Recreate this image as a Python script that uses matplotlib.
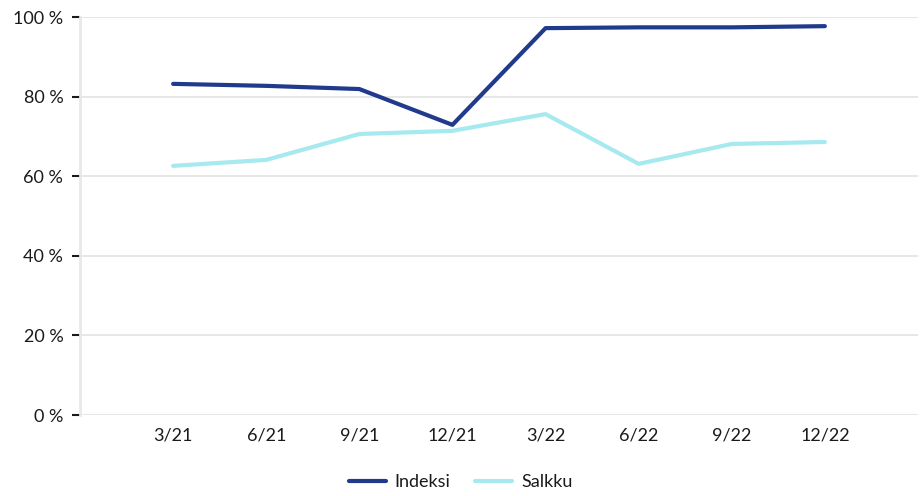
import matplotlib
matplotlib.use("Agg")
import matplotlib.pyplot as plt
from matplotlib.ticker import FuncFormatter

categories = ["3/21", "6/21", "9/21", "12/21", "3/22", "6/22", "9/22", "12/22"]
indeksi = [83.2, 82.7, 81.9, 72.9, 97.2, 97.4, 97.4, 97.7]
salkku = [62.6, 64.1, 70.6, 71.4, 75.6, 63.1, 68.1, 68.6]
y_ticks = [0, 20, 40, 60, 80, 100]

plt.rcParams['font.family'] = ['Lato', 'DejaVu Sans']
text_color = "#1a1a1a"

fig = plt.figure(figsize=(9.21, 4.96), dpi=100)
ax = fig.add_axes([80/921, 81/496, 838/921, 398/496])

x = list(range(1, len(categories) + 1))
ax.plot(x, indeksi, color="#203a8c", lw=3, label="Indeksi", solid_capstyle="round", zorder=3)
ax.plot(x, salkku, color="#a6e9ef", lw=3, label="Salkku", solid_capstyle="round", zorder=3)

ax.set_xlim(0, 9)
ax.set_ylim(0, 100)
ax.set_xticks(x)
ax.set_xticklabels(categories)
ax.set_yticks(y_ticks)
ax.yaxis.set_major_formatter(FuncFormatter(lambda v, p: f"{int(v)} %"))
ax.grid(axis="y", color="#e3e3e3", lw=1.2)
ax.set_axisbelow(True)
for s in ["top", "right", "bottom"]:
    ax.spines[s].set_visible(False)
ax.spines["left"].set_color("#e8e8e8")
ax.spines["left"].set_linewidth(2)
ax.tick_params(axis="x", length=0, pad=9, labelsize=13, labelcolor=text_color)
ax.tick_params(axis="y", length=6, width=1.5, color=text_color, pad=6, labelsize=13, labelcolor=text_color)

leg = fig.legend(loc="center", bbox_to_anchor=(0.5, 1 - 482/496), ncol=2, frameon=False,
                 fontsize=13, handlelength=2.05, columnspacing=1.35, handletextpad=0.5)
for t in leg.get_texts():
    t.set_color(text_color)

fig.savefig("out.png", dpi=100)
